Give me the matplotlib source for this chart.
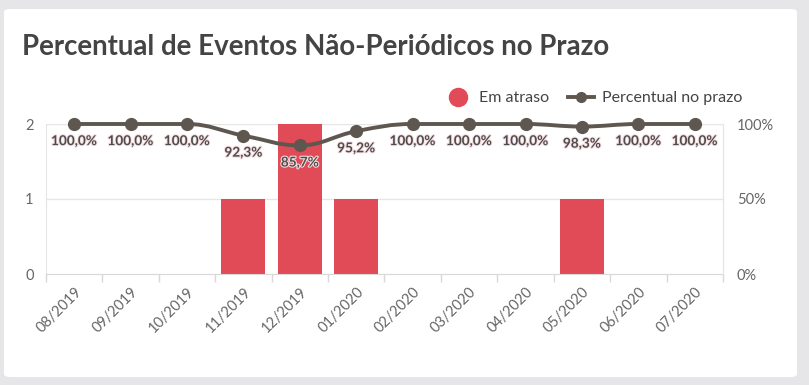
import matplotlib
matplotlib.use("Agg")
import matplotlib.pyplot as plt
import numpy as np
from matplotlib.patches import FancyBboxPatch
from matplotlib.path import Path
from matplotlib.patches import PathPatch
from matplotlib.lines import Line2D
import matplotlib.patheffects as pe

categories = ["08/2019", "09/2019", "10/2019", "11/2019", "12/2019", "01/2020",
              "02/2020", "03/2020", "04/2020", "05/2020", "06/2020", "07/2020"]
em_atraso = [0, 0, 0, 1, 2, 1, 0, 0, 0, 1, 0, 0]
percentual = [100.0, 100.0, 100.0, 92.3, 85.7, 95.2, 100.0, 100.0, 100.0, 98.3, 100.0, 100.0]
left_ticks = [0, 1, 2]
right_ticks = [0, 50, 100]
right_labels = ["0%", "50%", "100%"]

W, H = 809, 385
fig = plt.figure(figsize=(W / 100, H / 100), dpi=100)
fig.patch.set_facecolor("#e6e6e8")
FONT = "Lato"

card = FancyBboxPatch((4 / W, (H - 377) / H), (793 / W), (368 / H),
                      boxstyle="round,pad=0,rounding_size=0.008",
                      transform=fig.transFigure, facecolor="white", edgecolor="none", zorder=-5)
fig.patches.append(card)

fig.text(22 / W, 1 - 47 / H, "Percentual de Eventos Não-Periódicos no Prazo",
         fontsize=19.9, fontweight="bold", color="#444444", va="center", ha="left", family=FONT)

ax = fig.add_axes([46 / W, (H - 274) / H, (723 - 46) / W, 150 / H])
ax.set_facecolor("none")
x = np.arange(len(categories))
ax.bar(x, em_atraso, width=0.78, color="#e04b57", zorder=2)
ax.set_xlim(-0.5, len(categories) - 0.5)
ax.set_ylim(0, 2)
ax.set_yticks(left_ticks)
ax.set_yticklabels([str(t) for t in left_ticks], family=FONT, fontsize=10.5, color="#666666")
ax.tick_params(axis="y", length=0, pad=9)
for t in left_ticks[1:]:
    ax.axhline(t, color="#e6e6e6", lw=1, zorder=1)
ax.spines["top"].set_visible(False)
ax.spines["left"].set_color("#e6e6e6")
ax.spines["right"].set_color("#e6e6e6")
ax.spines["bottom"].set_color("#d8d8d8")
ax.set_xticks(np.arange(-0.5, len(categories) + 0.5, 1.0), minor=False)
ax.set_xticklabels([])
ax.tick_params(axis="x", length=6, color="#d8d8d8", width=1)
ax.set_xticks(x, minor=True)
ax.set_xticklabels(categories, minor=True, rotation=45, ha="right", rotation_mode="anchor",
                   family=FONT, fontsize=10.5, color="#666666")
ax.tick_params(axis="x", which="minor", length=0, pad=8)

ax2 = ax.twinx()
ax2.set_ylim(0, 100)
ax2.set_yticks(right_ticks)
ax2.set_yticklabels(right_labels, family=FONT, fontsize=10.5, color="#666666")
ax2.tick_params(axis="y", length=0, pad=10)
for s in ["top", "left", "bottom"]:
    ax2.spines[s].set_visible(False)
ax2.spines["right"].set_color("#e6e6e6")

# Highcharts-like spline via cubic Bezier control points
def spline_path(xs, ys, smoothing=1.5):
    n = len(xs)
    denom = smoothing + 1
    lc = [(xs[i], ys[i]) for i in range(n)]
    rc = [(xs[i], ys[i]) for i in range(n)]
    for i in range(1, n - 1):
        px, py = xs[i], ys[i]
        lx, ly = xs[i - 1], ys[i - 1]
        nx, ny = xs[i + 1], ys[i + 1]
        lcx = (smoothing * px + lx) / denom
        lcy = (smoothing * py + ly) / denom
        rcx = (smoothing * px + nx) / denom
        rcy = (smoothing * py + ny) / denom
        corr = 0
        if rcx != lcx:
            corr = (rcy - lcy) * (rcx - px) / (rcx - lcx) + py - rcy
        lcy += corr
        rcy += corr
        if lcy > ly and lcy > py:
            lcy = max(ly, py); rcy = 2 * py - lcy
        elif lcy < ly and lcy < py:
            lcy = min(ly, py); rcy = 2 * py - lcy
        if rcy > ny and rcy > py:
            rcy = max(ny, py); lcy = 2 * py - rcy
        elif rcy < ny and rcy < py:
            rcy = min(ny, py); lcy = 2 * py - rcy
        lc[i] = (lcx, lcy)
        rc[i] = (rcx, rcy)
    verts = [(xs[0], ys[0])]
    codes = [Path.MOVETO]
    for i in range(1, n):
        verts += [rc[i - 1], lc[i], (xs[i], ys[i])]
        codes += [Path.CURVE4] * 3
    return Path(verts, codes)

LINE_C = "#5e5750"
ax2.add_patch(PathPatch(spline_path(list(x), percentual), facecolor="none",
                        edgecolor=LINE_C, lw=2.8, zorder=3, clip_on=False))
ax2.plot(x, percentual, "o", color=LINE_C, ms=8.5, zorder=4, clip_on=False)
for xi, v in zip(x, percentual):
    ax2.annotate(f"{v:.1f}%".replace(".", ","), (xi, v), xytext=(0, -8),
                 textcoords="offset points", ha="center", va="top", fontsize=9.8,
                 fontweight="bold", color="#4d4d4d", family=FONT, zorder=5,
                 path_effects=[pe.withStroke(linewidth=1.5, foreground="#f7dfe2")])

# legend
h1 = Line2D([], [], marker="o", ls="none", color="#e04b57", ms=13)
h2 = Line2D([], [], marker="o", ls="-", color=LINE_C, ms=7, lw=2.8)
fig.legend([h1, h2], ["Em atraso", "Percentual no prazo"], loc="center",
           bbox_to_anchor=(594 / W, 1 - 98 / H), ncol=2, frameon=False,
           prop={"family": FONT, "size": 11.5}, labelcolor="#444444",
           handlelength=1.6, columnspacing=1.2, handletextpad=0.5)

fig.savefig("out.png", dpi=100, facecolor=fig.get_facecolor())
